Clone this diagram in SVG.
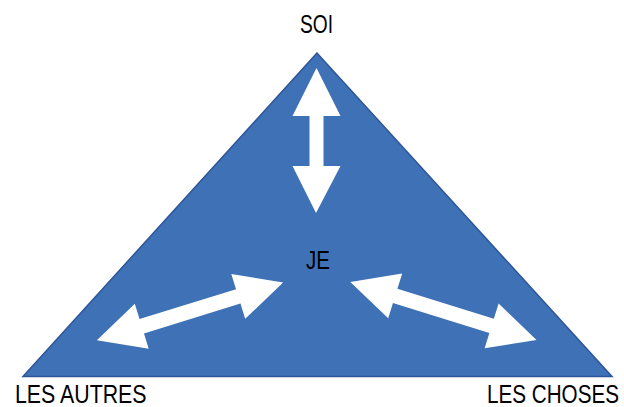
<svg xmlns="http://www.w3.org/2000/svg" width="624" height="407" viewBox="0 0 624 407">
  <style>
    .tri { fill: #3F71B7; stroke: #2E5597; stroke-width: 1.5; stroke-linejoin: miter; }
    .arrow { fill: #FFFFFF; stroke: none; }
    .lbl { font-family: "Liberation Sans", Arial, sans-serif; font-size: 25px; fill: #000000; }
  </style>
  <defs>
    <polygon id="dblArrow" points="-97.5,0 -50.5,-23.5 -50.5,-7.5 50.5,-7.5 50.5,-23.5 97.5,0 50.5,23.5 50.5,7.5 -50.5,7.5 -50.5,23.5"/>
  </defs>
  <g id="triangle">
    <polygon class="tri" points="317,53 23,376.5 612,376.5"/>
  </g>
  <g id="connectors">
    <polygon class="arrow" points="316.5,68 292.5,116 309.5,116 309.5,166 292.5,166 316,213 340.5,166 323.5,166 323.5,116 340.5,116"/>
    <use href="#dblArrow" class="arrow" transform="translate(190,311.3) rotate(-17.2)"/>
    <use href="#dblArrow" class="arrow" transform="translate(443.4,310.9) rotate(17.3)"/>
  </g>
  <g id="node-soi">
    <text class="lbl" x="300" y="32.5" textLength="33" lengthAdjust="spacingAndGlyphs">SOI</text>
  </g>
  <g id="node-je">
    <text class="lbl" x="306" y="269" textLength="24" lengthAdjust="spacingAndGlyphs">JE</text>
  </g>
  <g id="node-les-autres">
    <text class="lbl" x="15" y="403" textLength="131.5" lengthAdjust="spacingAndGlyphs">LES AUTRES</text>
  </g>
  <g id="node-les-choses">
    <text class="lbl" x="619" y="403" text-anchor="end" textLength="132" lengthAdjust="spacingAndGlyphs">LES CHOSES</text>
  </g>
</svg>
